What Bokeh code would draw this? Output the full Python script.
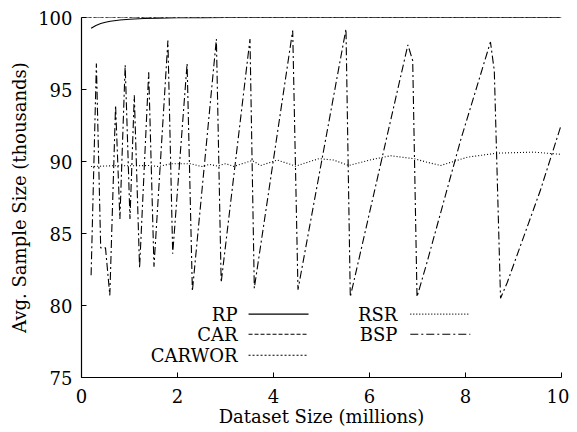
from bokeh.plotting import figure
from bokeh.models import FixedTicker, Range1d
from bokeh.core.properties import value
from bokeh.embed import file_html
from bokeh.resources import INLINE

# ---------------- data ----------------
rp_x = [0.2, 0.3, 0.4, 0.5, 0.6, 0.8, 1.0, 1.3, 1.6, 2.0, 2.5, 3.0, 10.0]
rp_y = [99.25, 99.45, 99.58, 99.67, 99.74, 99.83, 99.88, 99.93, 99.96, 99.98, 99.99, 100.0, 100.0]

car_x = [0.0, 10.0]
car_y = [100.0, 100.0]

carwor_x = [0.0, 10.0]
carwor_y = [100.0, 100.0]

rsr_x = [0.2, 0.6, 1.0, 1.4, 1.61, 1.85, 2.27, 2.51, 2.67, 2.83, 3.0, 3.17, 3.56, 3.73,
         4.08, 4.46, 4.95, 5.25, 5.57, 6.0, 6.44, 6.92, 7.2, 7.48, 8.04, 8.66, 9.42, 9.98]
rsr_y = [89.65, 89.7, 89.7, 89.72, 89.65, 89.84, 89.84, 89.65, 89.8, 89.68, 89.85, 89.66, 90.07, 89.72,
         90.1, 89.68, 90.2, 90.1, 89.72, 90.1, 90.4, 90.2, 89.95, 89.72, 90.3, 90.58, 90.65, 90.5]

bsp_x = [0.2, 0.31, 0.40, 0.50, 0.59, 0.71, 0.80, 0.91, 1.01, 1.10, 1.21, 1.40, 1.51, 1.80,
         1.90, 2.20, 2.31, 2.81, 2.91, 3.51, 3.60, 4.40, 4.51, 5.51, 5.60, 6.80, 6.90, 6.99,
         7.19, 7.90, 8.52, 8.60, 8.73, 8.87, 9.56, 9.99]
bsp_y = [82.1, 96.8, 84.0, 84.0, 80.7, 93.9, 86.0, 96.7, 86.0, 94.6, 82.6, 96.2, 82.7, 98.4,
         83.6, 96.8, 81.0, 98.5, 81.6, 98.5, 81.2, 99.1, 81.1, 99.2, 80.6, 98.1, 97.0, 80.6,
         82.9, 91.5, 98.3, 96.3, 80.5, 81.6, 88.0, 92.5]

x_ticks = [0, 2, 4, 6, 8, 10]
y_ticks = [75, 80, 85, 90, 95, 100]

series_names = ["RP", "CAR", "CARWOR", "RSR", "BSP"]
series_dash = ["solid", "4 2", "2 2", "1 2", "8 3 2 3"]

FONT = "DejaVu Serif"
FS = "18px"

p = figure(output_backend="svg", toolbar_location=None,
           frame_width=480, frame_height=360,
           min_border_left=81, min_border_top=17, min_border_right=8, min_border_bottom=50,
           x_range=Range1d(0, 10), y_range=Range1d(75, 100))
p.outline_line_color = None
p.grid.visible = False
p.background_fill_color = "white"
p.border_fill_color = "white"

for ax in (p.xaxis[0], p.yaxis[0]):
    ax.major_tick_in = 5
    ax.major_tick_out = 0
    ax.minor_tick_line_color = None
    ax.axis_line_width = 1.2
    ax.major_tick_line_width = 1.0
    ax.major_label_text_font = FONT
    ax.major_label_text_font_size = FS
    ax.major_label_text_color = "black"
    ax.axis_label_text_font = FONT
    ax.axis_label_text_font_size = FS
    ax.axis_label_text_font_style = "normal"
    ax.axis_label_text_color = "black"

p.xaxis.ticker = FixedTicker(ticks=x_ticks)
p.yaxis.ticker = FixedTicker(ticks=y_ticks)
p.xaxis.axis_label = "Dataset Size (millions)"
p.yaxis.axis_label = "Avg. Sample Size (thousands)"
p.xaxis.major_label_standoff = 11
p.xaxis.axis_label_standoff = 0
p.yaxis.major_label_standoff = 9
p.yaxis.axis_label_standoff = 5

xs = [rp_x, car_x, carwor_x, rsr_x, bsp_x]
ys = [rp_y, car_y, carwor_y, rsr_y, bsp_y]
for sx, sy, dash in zip(xs, ys, series_dash):
    p.line(sx, sy, line_color="black", line_width=1.1, line_dash=dash)

# ---------------- legend (label left, sample right) ----------------
leg_label_x = [3.25, 3.25, 3.25, 6.58, 6.58]
leg_line_x0 = [3.48, 3.48, 3.48, 6.85, 6.85]
leg_line_x1 = [4.73, 4.73, 4.73, 8.10, 8.10]
leg_y = [79.4, 78.0, 76.55, 79.4, 78.0]

p.text(x=leg_label_x, y=leg_y, text=series_names, text_font=value(FONT),
       text_font_size=FS, text_align="right", text_baseline="middle", text_color="black")
for x0, x1, yy, dash in zip(leg_line_x0, leg_line_x1, leg_y, series_dash):
    p.line([x0, x1], [yy, yy], line_color="black", line_width=1.1, line_dash=dash)

open("out.html", "w").write(file_html(p, INLINE))
